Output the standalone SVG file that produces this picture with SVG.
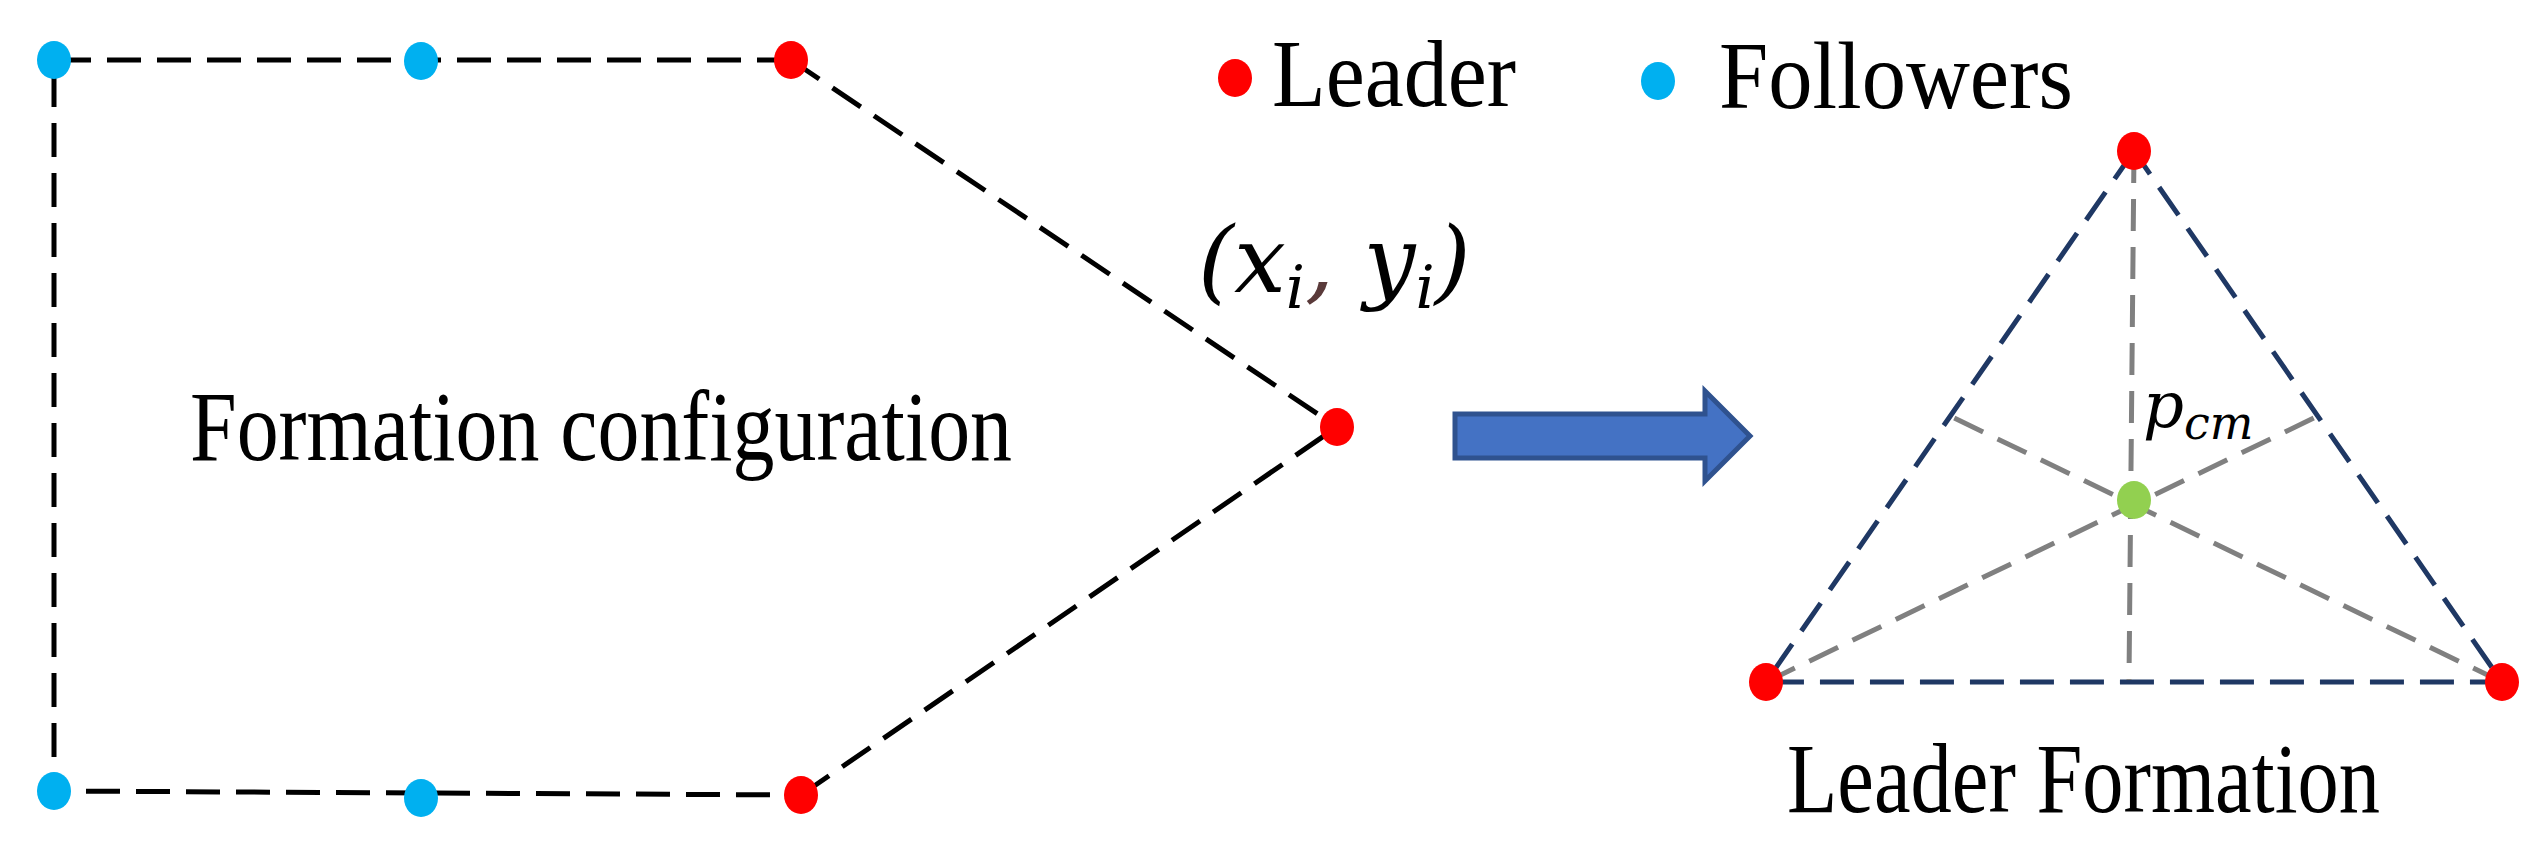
<svg xmlns="http://www.w3.org/2000/svg" width="2548" height="868" viewBox="0 0 2548 868">
<style>
.k{fill:none;stroke:#000;stroke-width:5;stroke-dasharray:34 16}
.n{fill:none;stroke:#1F3864;stroke-width:5;stroke-dasharray:34 16}
.g{fill:none;stroke:#808080;stroke-width:5;stroke-dasharray:32 16}
.r{fill:#FF0000}.b{fill:#00B0F0}
text{font-family:"Liberation Serif","Times New Roman",serif;fill:#000}
.m{font-style:italic;font-family:"DejaVu Serif","Liberation Serif",serif}
</style>
<rect width="2548" height="868" fill="#fff"/>
<g id="connectors">
<polyline class="k" points="791,60 54,60 54,791 801,795"/>
<line class="k" x1="791" y1="60" x2="1337" y2="427"/>
<line class="k" x1="801" y1="795" x2="1337" y2="427"/>
<polygon class="n" points="2134,151 1766,682 2502,682"/>
<line class="g" x1="2134" y1="151" x2="2129" y2="680"/>
<line class="g" x1="1766" y1="682" x2="2318" y2="416"/>
<line class="g" x1="2502" y1="682" x2="1950" y2="416"/>
</g>
<g id="arrow"><polygon points="1455,414 1705,414 1705,391 1750,436 1705,481 1705,458 1455,458" fill="#4472C4" stroke="#2F528F" stroke-width="5"/></g>
<g id="n1"><ellipse class="b" cx="54" cy="60" rx="17" ry="19"/></g>
<g id="n2"><ellipse class="b" cx="421" cy="61" rx="17" ry="19"/></g>
<g id="n3"><ellipse class="r" cx="791" cy="60" rx="17" ry="19"/></g>
<g id="n4"><ellipse class="r" cx="1337" cy="427" rx="17" ry="19"/></g>
<g id="n5"><ellipse class="r" cx="801" cy="795" rx="17" ry="19"/></g>
<g id="n6"><ellipse class="b" cx="421" cy="798" rx="17" ry="19"/></g>
<g id="n7"><ellipse class="b" cx="54" cy="791" rx="17" ry="19"/></g>
<g id="t1"><ellipse class="r" cx="2134" cy="151" rx="17" ry="19"/></g>
<g id="t2"><ellipse class="r" cx="1766" cy="682" rx="17" ry="19"/></g>
<g id="t3"><ellipse class="r" cx="2502" cy="682" rx="17" ry="19"/></g>
<g id="cm"><ellipse fill="#92D050" cx="2134" cy="500" rx="17" ry="19"/></g>
<g id="legend">
<ellipse class="r" cx="1235" cy="78" rx="17" ry="19"/>
<text x="1272" y="106" font-size="96" textLength="244" lengthAdjust="spacingAndGlyphs">Leader</text>
<ellipse class="b" cx="1658" cy="81" rx="17" ry="19"/>
<text x="1719" y="108" font-size="96" textLength="354" lengthAdjust="spacingAndGlyphs">Followers</text>
</g>
<text x="190" y="460" font-size="100" textLength="822" lengthAdjust="spacingAndGlyphs">Formation configuration</text>
<text x="1198" y="292" font-size="92" class="m">(<tspan>x</tspan><tspan font-size="60" dy="16">i</tspan><tspan dy="-16" fill="#5a3a3a">,</tspan> y<tspan font-size="60" dy="16">i</tspan><tspan dy="-16">)</tspan></text>
<text x="2143" y="427" font-size="64" class="m">p<tspan font-size="46" dy="12">cm</tspan></text>
<text x="1787" y="812" font-size="100" textLength="593" lengthAdjust="spacingAndGlyphs">Leader Formation</text>
</svg>
